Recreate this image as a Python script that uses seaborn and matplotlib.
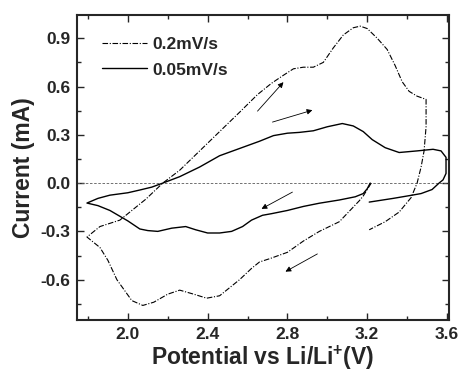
import matplotlib
matplotlib.use("Agg")
import matplotlib.pyplot as plt
import pandas as pd
import seaborn as sns
from matplotlib.ticker import AutoMinorLocator

# 0.2 mV/s scan (dash-dot): start near 3.22 V, cathodic sweep, back up to 3.5 V
fast_v = [3.22, 3.20, 3.18, 3.16, 3.06, 2.96, 2.88, 2.80, 2.71, 2.66, 2.62, 2.56,
          2.52, 2.46, 2.395, 2.33, 2.26, 2.20, 2.13, 2.075, 2.02, 1.945, 1.90, 1.86,
          1.795,
          1.86, 1.96, 2.00, 2.09, 2.175, 2.26, 2.36, 2.46, 2.56, 2.65, 2.72, 2.78,
          2.83, 2.88, 2.93, 2.98, 3.03, 3.08, 3.13, 3.165, 3.20, 3.25, 3.30, 3.34,
          3.375, 3.41, 3.45, 3.495, 3.495, 3.485, 3.47, 3.45, 3.42, 3.36, 3.29, 3.21]
fast_i = [0.00, -0.04, -0.08, -0.11, -0.24, -0.30, -0.36, -0.43, -0.47, -0.49, -0.53, -0.60,
          -0.64, -0.70, -0.715, -0.69, -0.665, -0.69, -0.74, -0.76, -0.73, -0.60, -0.48, -0.40,
          -0.335,
          -0.27, -0.23, -0.19, -0.10, 0.00, 0.08, 0.20, 0.32, 0.44, 0.55, 0.62, 0.67,
          0.71, 0.72, 0.72, 0.75, 0.84, 0.92, 0.965, 0.975, 0.96, 0.90, 0.83, 0.73,
          0.63, 0.57, 0.54, 0.52, 0.35, 0.20, 0.10, 0.00, -0.09, -0.18, -0.24, -0.29]

# 0.05 mV/s scan (solid)
slow_v = [3.215, 3.20, 3.18, 3.14, 3.06, 2.96, 2.88, 2.80, 2.72, 2.675, 2.62, 2.575,
          2.52, 2.46, 2.40, 2.34, 2.29, 2.22, 2.15, 2.10, 2.06, 2.00, 1.91, 1.85, 1.795,
          1.85, 1.91, 2.00, 2.06, 2.12, 2.175, 2.26, 2.36, 2.46, 2.56, 2.66, 2.73, 2.80,
          2.86, 2.93, 3.00, 3.075, 3.13, 3.18, 3.225, 3.29, 3.36, 3.45, 3.53, 3.57,
          3.595, 3.595, 3.58, 3.56, 3.525, 3.47, 3.425, 3.33, 3.21]
slow_i = [0.00, -0.035, -0.065, -0.085, -0.105, -0.125, -0.145, -0.17, -0.19, -0.20, -0.23, -0.27,
          -0.30, -0.31, -0.31, -0.29, -0.27, -0.28, -0.30, -0.295, -0.285, -0.235, -0.17, -0.14, -0.124,
          -0.095, -0.075, -0.06, -0.043, -0.025, 0.00, 0.04, 0.10, 0.17, 0.215, 0.26, 0.295, 0.31,
          0.315, 0.325, 0.35, 0.37, 0.355, 0.32, 0.27, 0.22, 0.19, 0.20, 0.21, 0.20,
          0.16, 0.06, 0.02, 0.00, -0.04, -0.065, -0.075, -0.095, -0.118]

labels = ["0.2mV/s", "0.05mV/s"]

sns.set_theme(style="ticks")
plt.rcParams["font.family"] = ["Liberation Sans", "DejaVu Sans"]
plt.rcParams["font.weight"] = "bold"
plt.rcParams["mathtext.fontset"] = "custom"
plt.rcParams["mathtext.rm"] = "Liberation Sans:bold"
plt.rcParams["mathtext.bf"] = "Liberation Sans:bold"

fig = plt.figure(figsize=(4.61, 3.72), dpi=100)
ax = fig.add_axes([0.167, 0.140, 0.807, 0.820])

ax.axhline(0, color="0.35", lw=0.6, ls=(0, (3, 2)), zorder=1)

# sort=False keeps the scan order so the loops close properly
for lab, v, i, ls, lw in [(labels[0], fast_v, fast_i, (0, (5, 1.5, 1, 1.5)), 0.8),
                          (labels[1], slow_v, slow_i, "-", 1.0)]:
    sub = pd.DataFrame({"V": v, "I": i})
    sns.lineplot(data=sub, x="V", y="I", sort=False, estimator=None, color="black",
                 lw=lw, ax=ax, label=lab)
    ax.lines[-1].set_linestyle(ls)

arrows = [((2.65, 0.447), (2.78, 0.627)),
          ((2.725, 0.379), (2.925, 0.453)),
          ((2.825, -0.056), (2.67, -0.16)),
          ((2.95, -0.44), (2.79, -0.55))]
for tail, head in arrows:
    ax.annotate("", xy=head, xytext=tail,
                arrowprops=dict(arrowstyle="-|>", lw=0.6, color="black",
                                mutation_scale=8, shrinkA=0, shrinkB=0))

ax.set_xlim(1.745, 3.61)
ax.set_ylim(-0.85, 1.045)
ax.set_xticks([2.0, 2.4, 2.8, 3.2, 3.6])
ax.set_xticklabels(["2.0", "2.4", "2.8", "3.2", "3.6"])
ax.set_yticks([-0.6, -0.3, 0.0, 0.3, 0.6, 0.9])
ax.set_yticklabels(["-0.6", "-0.3", "0.0", "0.3", "0.6", "0.9"])
ax.xaxis.set_minor_locator(AutoMinorLocator(2))
ax.yaxis.set_minor_locator(AutoMinorLocator(2))
ax.tick_params(which="both", direction="in", top=True, right=True, width=1.0,
               labelsize=12.5, pad=5)
ax.tick_params(which="major", length=5)
ax.tick_params(which="minor", length=3)
for lbl in ax.get_xticklabels() + ax.get_yticklabels():
    lbl.set_fontweight("bold")
for s in ax.spines.values():
    s.set_linewidth(1.5)

ax.set_xlabel(r"Potential vs Li/Li$^{+}$(V)", fontsize=16.5, fontweight="bold", labelpad=1)
ax.set_ylabel("Current (mA)", fontsize=16.5, fontweight="bold", labelpad=4)

leg = ax.legend(loc="upper left", frameon=False, fontsize=12.5, handlelength=2.6,
                handletextpad=0.3, borderaxespad=0.6, labelspacing=0.6,
                bbox_to_anchor=(0.02, 0.985))
for t in leg.get_texts():
    t.set_fontweight("bold")

fig.savefig("out.png", dpi=100)
